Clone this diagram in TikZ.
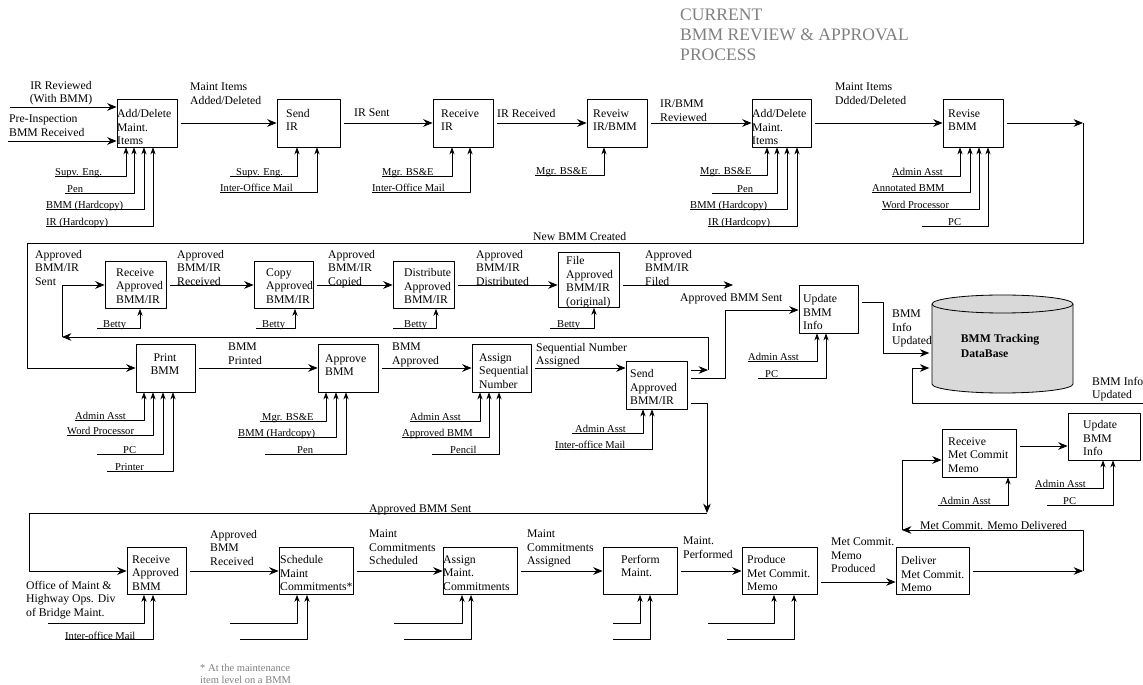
\documentclass[tikz,border=0pt]{standalone}
\usepackage{fontspec}
\setmainfont{Liberation Serif}
\usetikzlibrary{arrows.meta}
\def\pu{0.03cm}
\tikzset{
  box/.style={draw, line width=0.7pt, inner sep=0pt},
  btxt/.style={font=\fontsize{10}{11.5}\selectfont, align=left, inner sep=0pt, anchor=west},
  flab/.style={font=\fontsize{10}{11.5}\selectfont, align=left, inner sep=0pt, anchor=north west},
  clab/.style={font=\fontsize{9}{10}\selectfont, inner sep=0pt, anchor=base west},
  title/.style={font=\fontsize{15}{17}\selectfont, text=black!50, align=left, inner sep=0pt, anchor=north west},
  foot/.style={font=\fontsize{9}{10}\selectfont, text=black!50, align=left, inner sep=0pt, anchor=north west},
  wire/.style={line width=0.7pt},
  flow/.style={wire, shorten <=3pt, -{Stealth[length=8pt,width=6.5pt]}},
  ctl/.style={line width=0.6pt, -{Stealth[length=6pt,width=4.5pt]}},
  dbfill/.style={fill=black!15},
}
\begin{document}
\begin{tikzpicture}[x=\pu, y=-\pu, line join=round]
\useasboundingbox (0,0) rectangle (1143,685);
\node[title] (title) at (680,9) {CURRENT\\BMM REVIEW \& APPROVAL\\PROCESS};

% process boxes
\foreach \n/\cx/\cy/\w/\h in {a1/147/123/60/48, b1/308.5/123/63/48, c1/463/123/60/48,
    d1/617/123/60/48, e1/781.5/123/59/48, f1/973/123/60/48,
    g1/135.5/285/61/47, h1/283.5/285/59/47, i1/423.5/285/61/47, j1/588.5/280/61/55,
    k1/165.5/368/59/48, l1/348/368/60/48, m1/501.5/368/59/48, n1/656.5/385/61/48,
    u1/828.5/309/59/48, p1/156.5/571/59/47, q1/316/571/74/47, r1/480/571/74/47,
    s1/640/571/74/47, t1/779.5/571/75/47, v1/932.5/571/73/47, x1/979/453/74/48,
    w1/1104/436.5/72/47}
  \node[box, minimum width=\w*\pu, minimum height=\h*\pu] (\n) at (\cx,\cy) {};

\node[btxt] (a1t) at (117,127) {Add/Delete\\Maint.\\Items};
\node[btxt] (b1t) at (286,120) {Send\\IR};
\node[btxt] (c1t) at (441,120) {Receive\\IR};
\node[btxt] (d1t) at (593,120) {Reveiw\\IR/BMM};
\node[btxt] (e1t) at (752,127) {Add/Delete\\Maint.\\Items};
\node[btxt] (f1t) at (948,120) {Revise\\BMM};
\node[btxt] (g1t) at (116,286) {Receive\\Approved\\BMM/IR};
\node[btxt] (h1t) at (266,286) {Copy\\Approved\\BMM/IR};
\node[btxt] (i1t) at (404,286) {Distribute\\Approved\\BMM/IR};
\node[btxt] (j1t) at (566,282) {File\\Approved\\BMM/IR\\(original)};
\node[btxt, anchor=center, align=center] (k1t) at (165,364) {Print\\BMM};
\node[btxt] (l1t) at (325,365) {Approve\\BMM};
\node[btxt] (m1t) at (479,371) {Assign\\Sequential\\Number};
\node[btxt] (n1t) at (630,387) {Send\\Approved\\BMM/IR};
\node[btxt] (u1t) at (803,312) {Update\\BMM\\Info};
\node[btxt] (p1t) at (132,573) {Receive\\Approved\\BMM};
\node[btxt] (q1t) at (280,573) {Schedule\\Maint\\Commitments*};
\node[btxt] (r1t) at (443,573) {Assign\\Maint.\\Commitments};
\node[btxt] (s1t) at (621,566) {Perform\\Maint.};
\node[btxt] (t1t) at (747,573) {Produce\\Met Commit.\\Memo};
\node[btxt] (v1t) at (901,574) {Deliver\\Met Commit.\\Memo};
\node[btxt] (x1t) at (948,455) {Receive\\Met Commit\\Memo};
\node[btxt] (w1t) at (1083,438) {Update\\BMM\\Info};

% database
\fill[dbfill] (932,304) -- (932,384) arc[start angle=180, end angle=360, x radius=70.5*\pu, y radius=9*\pu]
  -- (1073,304) arc[start angle=0, end angle=180, x radius=70.5*\pu, y radius=9*\pu] -- cycle;
\draw[wire] (932,304) -- (932,384) arc[start angle=180, end angle=360, x radius=70.5*\pu, y radius=9*\pu] -- (1073,304);
\draw[wire] (1002.5,304) ellipse[x radius=70.5*\pu, y radius=9*\pu];
\node[minimum width=141*\pu, minimum height=98*\pu, inner sep=0pt, align=left,
  font=\fontsize{10}{13}\selectfont\bfseries] (db) at (1000,346) {BMM Tracking\\DataBase};

% controls (mechanisms) under the boxes
\foreach \b/\sx/\y/\cx/\lx/\t in {a1/55/176/126/55/Supv. Eng., a1/65/193/134/67/Pen,
    a1/46/209/144/46/BMM (Hardcopy), a1/46/226/153/46/IR (Hardcopy),
    b1/230/176/297/236/Supv. Eng., b1/220/192/317/220/Inter-Office Mail,
    c1/382/176/452/382/Mgr. BS\&E, c1/372/192/470/372/Inter-Office Mail,
    d1/535/175/604/536/Mgr. BS\&E,
    e1/700/175/767/700/Mgr. BS\&E, e1/712/193/777/737/Pen,
    e1/690/209/787/690/BMM (Hardcopy), e1/708/226/797/708/IR (Hardcopy),
    f1/892/176/960/892/Admin Asst, f1/872/192/970/872/Annotated BMM,
    f1/882/209/979/882/Word Processor, f1/922/226/988/948/PC,
    g1/97/328/140/103/Betty, h1/256/328/295/262/Betty,
    i1/393/328/436/404/Betty, j1/550/328/594/557/Betty,
    k1/75/420/144/75/Admin Asst, k1/67/435/153/67/Word Processor,
    k1/97/454/163/123/PC, k1/107/471/173/115/Printer,
    l1/260/421/326/262/Mgr. BS\&E, l1/238/437/336/238/BMM (Hardcopy), l1/265/454/346/297/Pen,
    m1/410/421/480/410/Admin Asst, m1/402/437/489/402/Approved BMM, m1/432/454/499/450/Pencil,
    n1/572/433/643/575/Admin Asst, n1/555/449/652/555/Inter-office Mail,
    u1/748/361/817/748/Admin Asst, u1/758/378/826/765/PC,
    p1/65/639/153/65/Inter-office Mail,
    x1/938/505/1008/940/Admin Asst,
    w1/1035/488/1103/1035/Admin Asst, w1/1047/505/1113/1063/PC}
  {\draw[ctl] (\sx,\y) -| (\b.south -| \cx,0);
   \node[clab] (\b-\cx) at (\lx,\y) {\t};}
\foreach \b/\sx/\y/\cx in {p1/48/623/144, q1/230/623/297, q1/240/639/307,
    r1/394/623/462, r1/404/639/471, s1/613/623/640, s1/613/639/650,
    t1/708/623/774, t1/727/639/794}
  \draw[ctl] (\sx,\y) -| (\b.south -| \cx,0);

% row 1
\draw[flow, shorten <=0pt] (10,107) -- (a1.west |- 0,107);
\draw[flow, shorten <=0pt] (8,141) -- (a1.west |- 0,141);
\node[flab, anchor=north, align=center] (in1) at (61,81) {IR Reviewed\\(With BMM)};
\node[flab] (in2) at (9,115) {Pre-Inspection\\BMM Received};
\draw[flow] (a1) -- (b1);
\node[flab] (a1b1) at (190,83) {Maint Items\\Added/Deleted};
\draw[flow] (b1) -- (c1);
\node[flab] (b1c1) at (354,109) {IR Sent};
\draw[flow] (c1) -- (d1);
\node[flab] (c1d1) at (497,109) {IR Received};
\draw[flow] (d1) -- (e1);
\node[flab] (d1e1) at (660,100) {IR/BMM\\Reviewed};
\draw[flow] (e1) -- (f1);
\node[flab] (e1f1) at (835,83) {Maint Items\\Ddded/Deleted};
\coordinate (r1end) at (1083,123);
\draw[flow] (f1) -- (r1end);
\draw[flow, shorten <=0pt] (r1end) -- (1083,243) -- (27,243) -- (27,368) -- (k1.west);
\node[clab, font=\fontsize{10}{11.5}\selectfont] (newbmm) at (533,241) {New BMM Created};

% row 2
\draw[flow] (g1) -- (h1);
\draw[flow] (h1) -- (i1);
\draw[flow] (i1.east) -- (j1.west |- i1.east);
\coordinate (filed) at (733,285);
\draw[flow] (j1.east |- 0,285) -- (filed);
\node[flab] (sentlab) at (35,250) {Approved\\BMM/IR\\Sent};
\node[flab] (g1h1) at (177,250) {Approved\\BMM/IR\\Received};
\node[flab] (h1i1) at (328,250) {Approved\\BMM/IR\\Copied};
\node[flab] (i1j1) at (476,250) {Approved\\BMM/IR\\Distributed};
\node[flab] (j1out) at (645,250) {Approved\\BMM/IR\\Filed};

% row 3
\draw[flow] (k1) -- (l1);
\draw[flow] (l1) -- (m1);
\draw[flow] (m1.east) -- (n1.west |- m1.east);
\node[flab] (k1l1) at (228,343) {BMM\\Printed};
\node[flab] (l1m1) at (392,343) {BMM\\Approved};
\node[flab] (m1n1) at (536,343) {Sequential Number\\Assigned};
\coordinate (back1) at (708,370);
\coordinate (back2) at (62,337);
\draw[flow] (n1.east |- back1) -- (back1);
\draw[flow, shorten <=0pt] (back1) -- (708,337) -- (back2);
\draw[flow, shorten <=0pt] (back2) -- (62,285) -- (g1.west);
\draw[flow] (n1.east |- 0,378) -- (725,378) -- (725,310) -- (u1.west |- 0,310);
\node[flab] (n1u1) at (680,293) {Approved BMM Sent};

% database links
\draw[flow] (u1.east |- 0,302) -- (883,302) -- (883,353) -- (db.west |- 0,353);
\node[flab] (u1db) at (892,310) {BMM\\Info\\Updated};
\draw[flow] (w1.east |- 0,428) -- (1150,428) -- (1150,403) -- (912,403) -- (912,368) -- (db.west |- 0,368);
\node[flab] (w1db) at (1092,377) {BMM Info\\Updated};

% row 4
\coordinate (down1) at (707,513);
\draw[flow] (n1.east |- 0,403) -- (707,403) -- (down1);
\draw[flow, shorten <=0pt] (down1) -- (29,513) -- (29,571) -- (p1.west);
\node[clab, font=\fontsize{10}{11.5}\selectfont] (sentlab2) at (369,512) {Approved BMM Sent};
\node[flab] (office) at (26,581) {Office of Maint \&\\Highway Ops. Div\\of Bridge Maint.};
\draw[flow] (p1) -- (q1);
\draw[flow] (q1) -- (r1);
\draw[flow] (r1) -- (s1);
\draw[flow] (s1) -- (t1);
\draw[flow] (t1.east |- 0,582) -- (v1.west |- 0,582);
\node[flab] (p1q1) at (210,530) {Approved\\BMM\\Received};
\node[flab] (q1r1) at (369,530) {Maint\\Commitments\\Scheduled};
\node[flab] (r1s1) at (527,530) {Maint\\Commitments\\Assigned};
\node[flab] (s1t1) at (683,537) {Maint.\\Performed};
\node[flab] (t1v1) at (831,538) {Met Commit.\\Memo\\Produced};
\coordinate (dl1) at (1083,571);
\coordinate (dl2) at (902,530);
\draw[flow] (v1) -- (dl1);
\draw[flow, shorten <=0pt] (dl1) -- (1083,530) -- (dl2);
\draw[flow, shorten <=0pt] (dl2) -- (902,460) -- (x1.west |- 0,460);
\node[clab, font=\fontsize{10}{11.5}\selectfont] (delivered) at (920,529) {Met Commit. Memo Delivered};
\draw[flow] (x1.east |- 0,446) -- (w1.west |- 0,446);

\node[foot] (note) at (200,664) {* At the maintenance\\item level on a BMM};
\end{tikzpicture}
\end{document}
